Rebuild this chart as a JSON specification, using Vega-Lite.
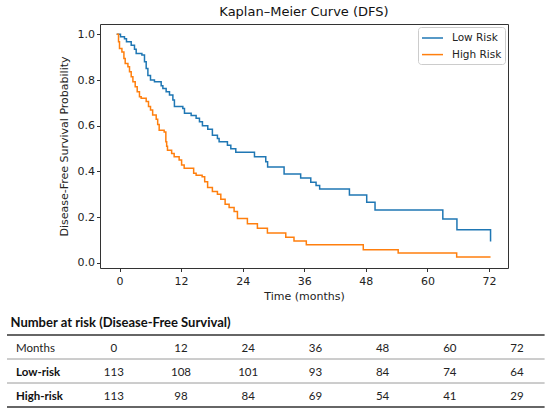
{
  "$schema": "https://vega.github.io/schema/vega-lite/v6.json",
  "width": 408,
  "height": 244,
  "autosize": {"type": "none"},
  "padding": {"left": 100, "top": 24, "right": 42, "bottom": 149},
  "background": "white",
  "title": {
    "text": "Kaplan–Meier Curve (DFS)",
    "font": "DejaVu Sans",
    "fontSize": 13,
    "fontWeight": "normal",
    "color": "#111",
    "offset": 5
  },
  "datasets": {
    "km": [
      {"group": "Low Risk", "t": -0.55, "s": 1.0},
      {"group": "Low Risk", "t": 0.19, "s": 0.989},
      {"group": "Low Risk", "t": 0.97, "s": 0.981},
      {"group": "Low Risk", "t": 1.36, "s": 0.967},
      {"group": "Low Risk", "t": 2.28, "s": 0.952},
      {"group": "Low Risk", "t": 2.92, "s": 0.935},
      {"group": "Low Risk", "t": 3.25, "s": 0.916},
      {"group": "Low Risk", "t": 4.36, "s": 0.909},
      {"group": "Low Risk", "t": 4.87, "s": 0.88},
      {"group": "Low Risk", "t": 5.2, "s": 0.85},
      {"group": "Low Risk", "t": 5.53, "s": 0.82},
      {"group": "Low Risk", "t": 6.04, "s": 0.8},
      {"group": "Low Risk", "t": 6.81, "s": 0.792},
      {"group": "Low Risk", "t": 8.12, "s": 0.775},
      {"group": "Low Risk", "t": 8.45, "s": 0.763},
      {"group": "Low Risk", "t": 9.09, "s": 0.749},
      {"group": "Low Risk", "t": 9.74, "s": 0.734},
      {"group": "Low Risk", "t": 10.4, "s": 0.713},
      {"group": "Low Risk", "t": 10.7, "s": 0.684},
      {"group": "Low Risk", "t": 12.34, "s": 0.676},
      {"group": "Low Risk", "t": 12.66, "s": 0.655},
      {"group": "Low Risk", "t": 13.96, "s": 0.645},
      {"group": "Low Risk", "t": 14.93, "s": 0.633},
      {"group": "Low Risk", "t": 15.58, "s": 0.618},
      {"group": "Low Risk", "t": 16.16, "s": 0.6},
      {"group": "Low Risk", "t": 17.2, "s": 0.585},
      {"group": "Low Risk", "t": 18.1, "s": 0.559},
      {"group": "Low Risk", "t": 19.08, "s": 0.544},
      {"group": "Low Risk", "t": 19.41, "s": 0.53},
      {"group": "Low Risk", "t": 21.03, "s": 0.515},
      {"group": "Low Risk", "t": 21.69, "s": 0.5},
      {"group": "Low Risk", "t": 22.66, "s": 0.484},
      {"group": "Low Risk", "t": 26.3, "s": 0.464},
      {"group": "Low Risk", "t": 28.5, "s": 0.443},
      {"group": "Low Risk", "t": 28.86, "s": 0.42},
      {"group": "Low Risk", "t": 32.07, "s": 0.389},
      {"group": "Low Risk", "t": 35.3, "s": 0.372},
      {"group": "Low Risk", "t": 37.27, "s": 0.353},
      {"group": "Low Risk", "t": 38.3, "s": 0.339},
      {"group": "Low Risk", "t": 39.0, "s": 0.323},
      {"group": "Low Risk", "t": 44.8, "s": 0.297},
      {"group": "Low Risk", "t": 48.17, "s": 0.266},
      {"group": "Low Risk", "t": 49.79, "s": 0.232},
      {"group": "Low Risk", "t": 63.0, "s": 0.192},
      {"group": "Low Risk", "t": 65.75, "s": 0.145},
      {"group": "Low Risk", "t": 72.3, "s": 0.094},
      {"group": "High Risk", "t": -0.55, "s": 1.0},
      {"group": "High Risk", "t": -0.19, "s": 0.967},
      {"group": "High Risk", "t": 0.0, "s": 0.938},
      {"group": "High Risk", "t": 0.47, "s": 0.923},
      {"group": "High Risk", "t": 0.86, "s": 0.894},
      {"group": "High Risk", "t": 1.11, "s": 0.872},
      {"group": "High Risk", "t": 1.64, "s": 0.858},
      {"group": "High Risk", "t": 1.95, "s": 0.836},
      {"group": "High Risk", "t": 2.28, "s": 0.814},
      {"group": "High Risk", "t": 2.61, "s": 0.793},
      {"group": "High Risk", "t": 3.06, "s": 0.771},
      {"group": "High Risk", "t": 3.45, "s": 0.749},
      {"group": "High Risk", "t": 3.89, "s": 0.727},
      {"group": "High Risk", "t": 4.22, "s": 0.72},
      {"group": "High Risk", "t": 5.2, "s": 0.706},
      {"group": "High Risk", "t": 5.65, "s": 0.684},
      {"group": "High Risk", "t": 6.04, "s": 0.669},
      {"group": "High Risk", "t": 6.46, "s": 0.647},
      {"group": "High Risk", "t": 7.15, "s": 0.628},
      {"group": "High Risk", "t": 7.44, "s": 0.605},
      {"group": "High Risk", "t": 7.73, "s": 0.58},
      {"group": "High Risk", "t": 8.7, "s": 0.573},
      {"group": "High Risk", "t": 9.03, "s": 0.53},
      {"group": "High Risk", "t": 9.19, "s": 0.51},
      {"group": "High Risk", "t": 9.35, "s": 0.493},
      {"group": "High Risk", "t": 10.16, "s": 0.479},
      {"group": "High Risk", "t": 10.65, "s": 0.464},
      {"group": "High Risk", "t": 11.62, "s": 0.45},
      {"group": "High Risk", "t": 12.1, "s": 0.428},
      {"group": "High Risk", "t": 12.6, "s": 0.414},
      {"group": "High Risk", "t": 14.45, "s": 0.392},
      {"group": "High Risk", "t": 14.93, "s": 0.384},
      {"group": "High Risk", "t": 16.1, "s": 0.377},
      {"group": "High Risk", "t": 16.6, "s": 0.355},
      {"group": "High Risk", "t": 17.17, "s": 0.33},
      {"group": "High Risk", "t": 18.1, "s": 0.312},
      {"group": "High Risk", "t": 19.08, "s": 0.3},
      {"group": "High Risk", "t": 19.74, "s": 0.279},
      {"group": "High Risk", "t": 20.58, "s": 0.257},
      {"group": "High Risk", "t": 21.36, "s": 0.243},
      {"group": "High Risk", "t": 22.33, "s": 0.225},
      {"group": "High Risk", "t": 22.98, "s": 0.194},
      {"group": "High Risk", "t": 24.92, "s": 0.172},
      {"group": "High Risk", "t": 26.87, "s": 0.152},
      {"group": "High Risk", "t": 28.82, "s": 0.131},
      {"group": "High Risk", "t": 32.4, "s": 0.113},
      {"group": "High Risk", "t": 34.0, "s": 0.096},
      {"group": "High Risk", "t": 36.4, "s": 0.08},
      {"group": "High Risk", "t": 47.5, "s": 0.058},
      {"group": "High Risk", "t": 54.3, "s": 0.044},
      {"group": "High Risk", "t": 65.7, "s": 0.026},
      {"group": "High Risk", "t": 72.3, "s": 0.026}
    ],
    "risk": [
      {"row": "Months", "col": "0", "n": 0},
      {"row": "Months", "col": "12", "n": 12},
      {"row": "Months", "col": "24", "n": 24},
      {"row": "Months", "col": "36", "n": 36},
      {"row": "Months", "col": "48", "n": 48},
      {"row": "Months", "col": "60", "n": 60},
      {"row": "Months", "col": "72", "n": 72},
      {"row": "Low-risk", "col": "0", "n": 113},
      {"row": "Low-risk", "col": "12", "n": 108},
      {"row": "Low-risk", "col": "24", "n": 101},
      {"row": "Low-risk", "col": "36", "n": 93},
      {"row": "Low-risk", "col": "48", "n": 84},
      {"row": "Low-risk", "col": "60", "n": 74},
      {"row": "Low-risk", "col": "72", "n": 64},
      {"row": "High-risk", "col": "0", "n": 113},
      {"row": "High-risk", "col": "12", "n": 98},
      {"row": "High-risk", "col": "24", "n": 84},
      {"row": "High-risk", "col": "36", "n": 69},
      {"row": "High-risk", "col": "48", "n": 54},
      {"row": "High-risk", "col": "60", "n": 41},
      {"row": "High-risk", "col": "72", "n": 29}
    ],
    "rows": [
      {"row": "Months"},
      {"row": "Low-risk"},
      {"row": "High-risk"}
    ]
  },
  "layer": [
    {
      "data": {"name": "km"},
      "mark": {"type": "line", "interpolate": "step-after", "strokeWidth": 1.5},
      "encoding": {
        "x": {
          "field": "t",
          "type": "quantitative",
          "scale": {"domain": [-3.8, 75.7], "nice": false, "zero": false},
          "axis": {"values": [0, 12, 24, 36, 48, 60, 72], "title": "Time (months)"}
        },
        "y": {
          "field": "s",
          "type": "quantitative",
          "scale": {"domain": [-0.022, 1.045], "nice": false, "zero": false},
          "axis": {"values": [0, 0.2, 0.4, 0.6, 0.8, 1.0], "format": ".1f", "title": "Disease-Free Survival Probability"}
        },
        "color": {
          "field": "group",
          "type": "nominal",
          "scale": {"domain": ["Low Risk", "High Risk"], "range": ["#1f77b4", "#ff7f0e"]},
          "legend": {
            "title": null,
            "orient": "top-right",
            "offset": 3,
            "symbolType": "M-1.5,0H1.5",
            "symbolSize": 196,
            "symbolStrokeWidth": 1.5,
            "symbolOffset": 3.5,
            "labelOffset": 11.5,
            "labelFont": "DejaVu Sans",
            "labelFontSize": 10.5,
            "labelColor": "#222",
            "padding": 3,
            "rowPadding": 2.6,
            "strokeColor": "#cccccc",
            "fillColor": "white",
            "cornerRadius": 3
          }
        }
      }
    },
    {
      "layer": [
        {
          "data": {"values": [{"label": "Number at risk (Disease-Free Survival)"}]},
          "mark": {"type": "text", "align": "left", "baseline": "middle", "dx": 3.5, "font": "Lato", "fontSize": 13, "fontWeight": "bold", "color": "#111"},
          "encoding": {
            "x": {"datum": "label", "type": "nominal", "bandPosition": 0, "axis": null,
              "scale": {"type": "band", "domain": ["label", "0", "12", "24", "36", "48", "60", "72"], "range": [-93, 444.6], "paddingInner": 0, "paddingOuter": 0}},
            "y": {"datum": "title", "type": "nominal", "axis": null,
              "scale": {"type": "band", "domain": ["title", "Months", "Low-risk", "High-risk"], "range": [287, 383], "paddingInner": 0, "paddingOuter": 0}},
            "text": {"field": "label"}
          }
        },
        {
          "data": {"values": [{}]},
          "mark": {"type": "rule", "color": "#333", "strokeWidth": 1.3},
          "encoding": {
            "x": {"datum": "label", "type": "nominal", "bandPosition": 0, "axis": null},
            "x2": {"datum": "72", "bandPosition": 1},
            "y": {"datum": "Months", "type": "nominal", "bandPosition": 0, "axis": null}
          }
        },
        {
          "data": {"name": "rows"},
          "mark": {"type": "rule"},
          "encoding": {
            "x": {"datum": "label", "type": "nominal", "bandPosition": 0, "axis": null},
            "x2": {"datum": "72", "bandPosition": 1},
            "y": {"field": "row", "type": "nominal", "bandPosition": 1, "axis": null},
            "color": {"condition": {"test": "datum.row === 'High-risk'", "value": "#333"}, "value": "#9a9a9a"},
            "strokeWidth": {"condition": {"test": "datum.row === 'High-risk'", "value": 1.3}, "value": 1}
          }
        },
        {
          "data": {"name": "rows"},
          "transform": [{"filter": "datum.row === 'Months'"}],
          "mark": {"type": "text", "align": "left", "baseline": "middle", "dx": 9, "dy": 1.5, "font": "Lato", "fontSize": 11.5, "color": "#222"},
          "encoding": {
            "x": {"datum": "label", "type": "nominal", "bandPosition": 0, "axis": null},
            "y": {"field": "row", "type": "nominal", "axis": null},
            "text": {"field": "row"}
          }
        },
        {
          "data": {"name": "rows"},
          "transform": [{"filter": "datum.row !== 'Months'"}],
          "mark": {"type": "text", "align": "left", "baseline": "middle", "dx": 9, "dy": 1.5, "font": "Lato", "fontSize": 11.5, "fontWeight": "bold", "color": "#111"},
          "encoding": {
            "x": {"datum": "label", "type": "nominal", "bandPosition": 0, "axis": null},
            "y": {"field": "row", "type": "nominal", "axis": null},
            "text": {"field": "row"}
          }
        },
        {
          "data": {"name": "risk"},
          "mark": {"type": "text", "align": "center", "baseline": "middle", "dx": 6, "dy": 1.5, "font": "Lato", "fontSize": 11.5, "color": "#222"},
          "encoding": {
            "x": {"field": "col", "type": "nominal", "axis": null},
            "y": {"field": "row", "type": "nominal", "axis": null},
            "text": {"field": "n"}
          }
        }
      ]
    }
  ],
  "resolve": {
    "scale": {"x": "independent", "y": "independent", "color": "independent"},
    "axis": {"x": "independent", "y": "independent"}
  },
  "config": {
    "view": {"stroke": "#333", "strokeWidth": 1},
    "axis": {
      "domain": false,
      "grid": false,
      "tickColor": "#333",
      "tickSize": 3.5,
      "labelFont": "DejaVu Sans",
      "labelFontSize": 11,
      "labelColor": "#222",
      "titleFont": "DejaVu Sans",
      "titleFontSize": 11,
      "titleFontWeight": "normal",
      "titleColor": "#222"
    },
    "axisX": {"labelPadding": 4, "titlePadding": 4},
    "axisY": {"labelPadding": 2, "titlePadding": 8}
  }
}
